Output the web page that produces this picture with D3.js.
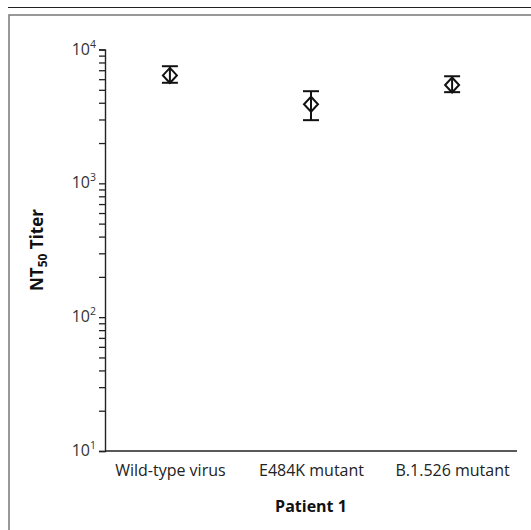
<!DOCTYPE html>
<html>
<head>
<meta charset="utf-8">
<script src="https://cdn.jsdelivr.net/npm/d3@7"></script>
<style>
  body { margin: 0; background: #fff; }
  text { font-family: "Open Sans", "Noto Sans", sans-serif; }
</style>
</head>
<body>
<div id="chart"></div>
<script>
// data
var strains = ["Wild-type virus", "E484K mutant", "B.1.526 mutant"];
var titerMean = [6400, 3900, 5430];
var titerUpper = [7500, 4880, 6310];
var titerLower = [5640, 2965, 4800];
var majorTicks = [10, 100, 1000, 10000];
var tickExps = ["1", "2", "3", "4"];

var W = 531, H = 530;
var margin = { top: 49.5, right: 14, bottom: 79, left: 105 };

var svg = d3.select("#chart").append("svg")
    .attr("width", W)
    .attr("height", H);

// outer rule and panel box
svg.append("line")
    .attr("x1", 8).attr("x2", W)
    .attr("y1", 7.5).attr("y2", 7.5)
    .attr("stroke", "#222").attr("stroke-width", 1.2);

svg.append("rect")
    .attr("x", 9).attr("y", 15)
    .attr("width", W + 20).attr("height", H + 20)
    .attr("fill", "none")
    .attr("stroke", "#777").attr("stroke-width", 1.5);

var x = d3.scalePoint()
    .domain(strains)
    .range([margin.left, W - margin.right])
    .padding(0.46);

var y = d3.scaleLog()
    .domain([10, 10000])
    .range([H - margin.bottom, margin.top]);

// all minor + major ticks
var allTicks = [];
[10, 100, 1000].forEach(function(d) {
    for (var i = 1; i < 10; i++) allTicks.push(d * i);
});
allTicks.push(10000);

var yAxis = svg.append("g")
    .attr("class", "yAxis")
    .attr("transform", "translate(" + margin.left + ",0)")
    .call(d3.axisLeft(y).tickValues(allTicks).tickSize(6).tickFormat(""));

yAxis.select(".domain").attr("stroke", "#222").attr("stroke-width", 1.4);
yAxis.selectAll(".tick line").attr("stroke", "#222").attr("stroke-width", 1.3);

// power-of-ten labels
majorTicks.forEach(function(v, i) {
    var t = svg.append("text")
        .attr("x", margin.left - 9)
        .attr("y", y(v) + 5)
        .attr("text-anchor", "end")
        .attr("fill", "#333")
        .style("font-size", "16px");
    t.append("tspan").text("10");
    t.append("tspan")
        .attr("dy", -7)
        .style("font-size", "10.5px")
        .text(tickExps[i]);
});

var xAxis = svg.append("g")
    .attr("class", "xAxis")
    .attr("transform", "translate(0," + (H - margin.bottom) + ")")
    .call(d3.axisBottom(x).tickSize(0).tickPadding(14));

xAxis.select(".domain").attr("stroke", "#222").attr("stroke-width", 1.4)
    .attr("d", "M" + margin.left + ",0H" + (W - margin.right));
xAxis.selectAll(".tick text")
    .attr("fill", "#222")
    .style("font-size", "16px")
    .style("font-family", "'Open Sans', 'Noto Sans', sans-serif");

// axis titles
var yTitle = svg.append("text")
    .attr("transform", "translate(43," + 250 + ")rotate(-90)")
    .attr("text-anchor", "middle")
    .attr("fill", "#111")
    .style("font-size", "17px")
    .style("font-weight", "bold");
yTitle.append("tspan").text("NT");
yTitle.append("tspan").attr("dy", 4).style("font-size", "12px").text("50");
yTitle.append("tspan").attr("dy", -4).text(" Titer");

svg.append("text")
    .attr("x", x(strains[1]))
    .attr("y", 512)
    .attr("text-anchor", "middle")
    .attr("fill", "#111")
    .style("font-size", "16px")
    .style("font-weight", "bold")
    .text("Patient 1");

// error bars + diamonds
var pts = strains.map(function(s, i) {
    return { name: s, mean: titerMean[i], hi: titerUpper[i], lo: titerLower[i] };
});

var g = svg.append("g").attr("class", "points");
var capW = 8;

var mk = g.selectAll("g.pt").data(pts).enter().append("g").attr("class", "pt");

mk.append("line")
    .attr("x1", function(d) { return x(d.name); })
    .attr("x2", function(d) { return x(d.name); })
    .attr("y1", function(d) { return y(d.hi); })
    .attr("y2", function(d) { return y(d.lo); })
    .attr("stroke", "#111").attr("stroke-width", 2);

["hi", "lo"].forEach(function(k) {
    mk.append("line")
        .attr("x1", function(d) { return x(d.name) - capW; })
        .attr("x2", function(d) { return x(d.name) + capW; })
        .attr("y1", function(d) { return y(d[k]); })
        .attr("y2", function(d) { return y(d[k]); })
        .attr("stroke", "#111").attr("stroke-width", 2);
});

mk.append("path")
    .attr("d", function(d) {
        var cx = x(d.name), cy = y(d.mean);
        return "M" + cx + "," + (cy - 7.5) + "L" + (cx + 7) + "," + cy +
            "L" + cx + "," + (cy + 7.5) + "L" + (cx - 7) + "," + cy + "Z";
    })
    .attr("fill", "none")
    .attr("stroke", "#111").attr("stroke-width", 2);
</script>
</body>
</html>
